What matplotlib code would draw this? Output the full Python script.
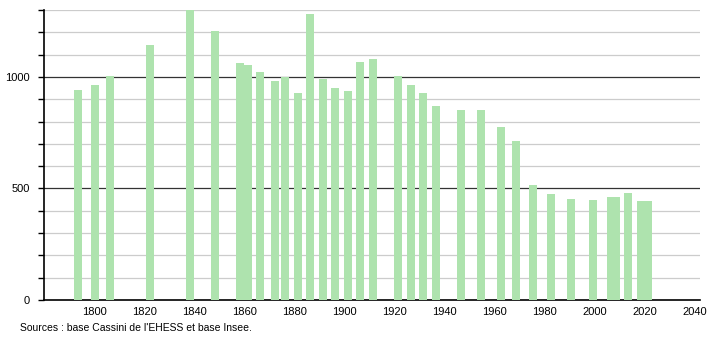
import numpy as np
import matplotlib.pyplot as plt
from matplotlib.ticker import MultipleLocator

# Population par recensement
years = [1793, 1800, 1806, 1822, 1838, 1848, 1858, 1861, 1866, 1872, 1876,
         1881, 1886, 1891, 1896, 1901, 1906, 1911, 1921, 1926, 1931, 1936,
         1946, 1954, 1962, 1968, 1975, 1982, 1990, 1999, 2006, 2008, 2013,
         2018, 2021]
population = [940, 965, 1005, 1145, 1310, 1208, 1064, 1055, 1024, 983, 1000,
              929, 1280, 992, 952, 938, 1069, 1079, 1006, 965, 929, 868,
              853, 851, 776, 714, 516, 476, 452, 449, 461, 461, 479,
              445, 445]
x_ticks = list(range(1800, 2041, 20))
y_ticks = [0, 500, 1000]
source = "Sources : base Cassini de l'EHESS et base Insee."

plt.rcParams['font.family'] = ['Liberation Sans', 'DejaVu Sans']

fig = plt.figure(figsize=(7.1, 3.4), dpi=100)
ax = fig.add_axes([44/710, 40/340, 656/710, 290/340])

# les barres sont un peu décalées à droite de l'année dans l'original
ax.bar(np.array(years) + 0.4, population, width=3.2, color='#aee3ae', zorder=3)

# grille : fine tous les 100, foncée à 500 et 1000
for v in range(100, 1301, 100):
    if v % 500 == 0:
        ax.axhline(v, color='#333333', lw=0.9, zorder=1)
    else:
        ax.axhline(v, color='#cccccc', lw=0.9, zorder=1)

ax.set_xlim(1780, 2042)
ax.set_ylim(0, 1300)
ax.set_xticks(x_ticks)
ax.set_yticks(y_ticks)
ax.yaxis.set_minor_locator(MultipleLocator(100))
ax.tick_params(axis='x', length=0, labelsize=8, pad=5)
ax.tick_params(axis='y', which='both', length=4, width=1, labelsize=8, pad=6)

for s in ['top', 'right']:
    ax.spines[s].set_visible(False)
ax.spines['left'].set_linewidth(1.2)
ax.spines['bottom'].set_linewidth(1.2)

fig.text(20/710, 1 - 328/340, source, fontsize=7.5, va='center', ha='left')

fig.savefig('out.png', dpi=100)
